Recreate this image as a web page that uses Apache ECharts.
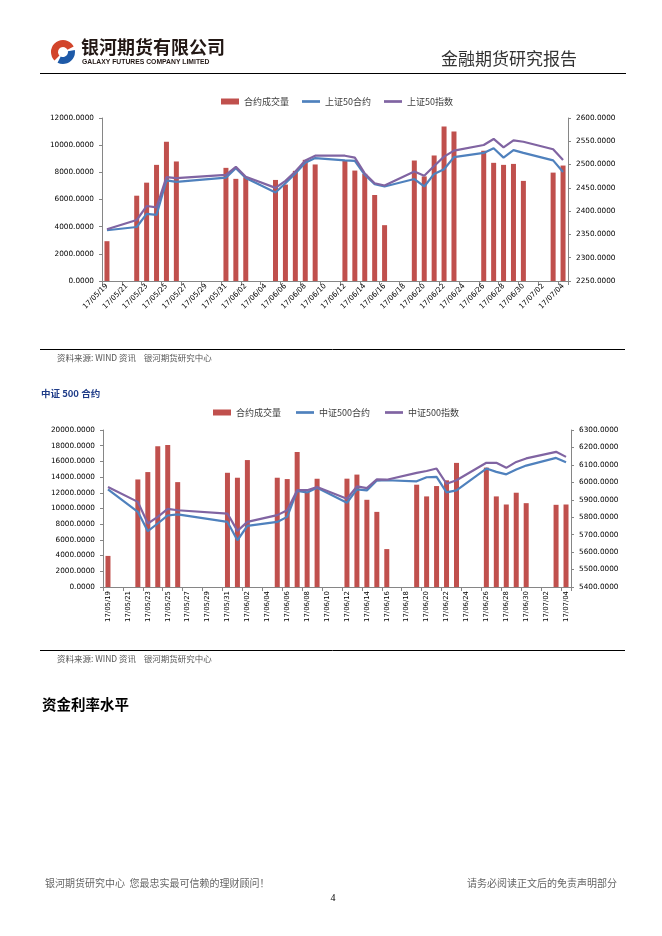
<!DOCTYPE html>
<html>
<head>
<meta charset="utf-8">
<script src="https://cdn.jsdelivr.net/npm/echarts@6/dist/echarts.min.js"></script>
<style>
html,body{margin:0;padding:0;background:#fff;}
#page{width:662px;height:936px;}
</style>
</head>
<body>
<div id="page"></div>
<script>
// ---------- data ----------
const calendarDays = [
 '17/05/19','17/05/20','17/05/21','17/05/22','17/05/23','17/05/24','17/05/25','17/05/26','17/05/27','17/05/28',
 '17/05/29','17/05/30','17/05/31','17/06/01','17/06/02','17/06/03','17/06/04','17/06/05','17/06/06','17/06/07',
 '17/06/08','17/06/09','17/06/10','17/06/11','17/06/12','17/06/13','17/06/14','17/06/15','17/06/16','17/06/17',
 '17/06/18','17/06/19','17/06/20','17/06/21','17/06/22','17/06/23','17/06/24','17/06/25','17/06/26','17/06/27',
 '17/06/28','17/06/29','17/06/30','17/07/01','17/07/02','17/07/03','17/07/04'
];
const tradeDays = [
 '17/05/19','17/05/22','17/05/23','17/05/24','17/05/25','17/05/26','17/05/31','17/06/01','17/06/02',
 '17/06/05','17/06/06','17/06/07','17/06/08','17/06/09','17/06/12','17/06/13','17/06/14','17/06/15','17/06/16',
 '17/06/19','17/06/20','17/06/21','17/06/22','17/06/23','17/06/26','17/06/27','17/06/28','17/06/29','17/06/30',
 '17/07/03','17/07/04'
];
// 上证50
const sz50Volume = [2930,6280,7240,8550,10250,8800,8330,7520,7640,7440,7100,8110,8920,8580,8890,8130,7890,6330,4110,8870,7700,9240,11380,11010,9590,8700,8550,8620,7370,7980,8500];
const sz50Future = [2359,2366,2394,2392,2466,2463,2472,2492,2471,2440,2460,2481,2504,2514,2509,2508,2478,2458,2453,2469,2453,2480,2490,2516,2525,2535,2515,2531,2525,2509,2484];
const sz50Index  = [2361,2381,2411,2408,2473,2471,2478,2495,2474,2450,2465,2485,2509,2519,2519,2515,2481,2460,2455,2485,2476,2497,2517,2530,2542,2555,2537,2552,2549,2533,2510];
// 中证500
const zz500Volume = [3960,13700,14640,17920,18090,13360,14550,13920,16170,13920,13750,17190,12100,13790,13800,14320,11110,9570,4830,13030,11540,12860,13590,15810,15210,11540,10510,12010,10680,10470,10510];
const zz500Future = [5959,5831,5720,5764,5810,5816,5773,5668,5750,5773,5802,5951,5942,5969,5883,5960,5954,6010,6012,6006,6029,6031,5942,5954,6079,6060,6046,6073,6096,6140,6115];
const zz500Index  = [5973,5888,5764,5802,5848,5840,5821,5722,5773,5812,5840,5955,5955,5973,5906,5977,5967,6017,6015,6054,6065,6079,5992,6012,6112,6112,6083,6117,6137,6175,6146];
// axis ranges
const sz50LeftAxis = [0, 12000, 2000];
const sz50RightAxis = [2250, 2600, 50];
const zz500LeftAxis = [0, 20000, 2000];
const zz500RightAxis = [5400, 6300, 100];

// ---------- build ----------
function toCalendar(values){
  const m = {};
  tradeDays.forEach((d,i)=>{ m[d] = values[i]; });
  return calendarDays.map(d => (d in m) ? m[d] : null);
}
const RED = '#C0504D', BLUE = '#4F81BD', PURPLE = '#8064A2', AX = '#868686';
const NUM_FONT = 'DejaVu Sans';
const CJK = '"Noto Sans CJK SC"';

function yAx(grid, pos, r){
  return {
    type:'value', gridIndex:grid, position:pos, min:r[0], max:r[1], interval:r[2],
    axisLine:{show:true, lineStyle:{color:AX, width:1}},
    axisTick:{show:true, length:3, lineStyle:{color:AX}},
    splitLine:{show:false},
    axisLabel:{formatter:v=>v.toFixed(4), fontSize:7.3, fontFamily:NUM_FONT, color:'#000', margin:8}
  };
}
function xAx(grid, rot, margin, fs){
  return {
    type:'category', gridIndex:grid, data:calendarDays, boundaryGap:true,
    axisLine:{show:true, lineStyle:{color:AX, width:1}},
    axisTick:{show:true, interval:1, length:4, alignWithLabel:false, lineStyle:{color:AX}},
    axisLabel:{interval:1, rotate:rot, fontSize:fs, fontFamily:NUM_FONT, color:'#000', margin:margin},
    splitLine:{show:false}
  };
}
const lineIcon = 'path://M0 0H20V3H0Z';
function lineSeries(name, data, color, xi, yi){
  return {type:'line', name:name, data:toCalendar(data), xAxisIndex:xi, yAxisIndex:yi,
    connectNulls:true, symbol:'none', showSymbol:false,
    lineStyle:{color:color, width:2.2}, itemStyle:{color:color}, z:3, animation:false};
}
function barSeries(data, xi, yi){
  return {type:'bar', name:'合约成交量', data:toCalendar(data), xAxisIndex:xi, yAxisIndex:yi,
    barWidth:5, itemStyle:{color:RED}, animation:false};
}
function txt(x, y, s, font, fill, align){
  return {type:'text', x:x, y:y, style:{text:s, font:font, fill:fill, align:align||'left', verticalAlign:'middle'}};
}
function hline(x1, x2, y, w){
  return {type:'line', shape:{x1:x1, y1:y, x2:x2, y2:y}, style:{stroke:'#000', lineWidth:w||1}};
}

const chart = echarts.init(document.getElementById('page'), null, {renderer:'canvas'});
chart.setOption({
  animation:false,
  backgroundColor:'#fff',
  grid:[
    {left:102, top:118, width:466, height:163},
    {left:103, top:430, width:468, height:157}
  ],
  legend:[
    {left:221, top:97, padding:0, itemWidth:18, itemHeight:6, itemGap:13,
     textStyle:{fontSize:9, color:'#404040', fontFamily:CJK},
     data:[{name:'合约成交量', icon:'rect'},{name:'上证50合约', icon:lineIcon},{name:'上证50指数', icon:lineIcon}]},
    {left:213, top:408, padding:0, itemWidth:18, itemHeight:6, itemGap:15,
     textStyle:{fontSize:9, color:'#404040', fontFamily:CJK},
     data:[{name:'合约成交量', icon:'rect'},{name:'中证500合约', icon:lineIcon},{name:'中证500指数', icon:lineIcon}]}
  ],
  xAxis:[ xAx(0, 45, 4, 7.2), xAx(1, 90, 4, 6.9) ],
  yAxis:[
    yAx(0,'left',sz50LeftAxis), yAx(0,'right',sz50RightAxis),
    yAx(1,'left',zz500LeftAxis), yAx(1,'right',zz500RightAxis)
  ],
  series:[
    barSeries(sz50Volume, 0, 0),
    lineSeries('上证50合约', sz50Future, BLUE, 0, 1),
    lineSeries('上证50指数', sz50Index, PURPLE, 0, 1),
    barSeries(zz500Volume, 1, 2),
    lineSeries('中证500合约', zz500Future, BLUE, 1, 3),
    lineSeries('中证500指数', zz500Index, PURPLE, 1, 3)
  ],
  graphic:[
    // logo
    {type:'sector', shape:{cx:63, cy:52, r0:5, r:12, startAngle:Math.PI*0.75, endAngle:Math.PI*1.85, clockwise:true}, style:{fill:'#D2452B'}},
    {type:'sector', shape:{cx:63, cy:52, r0:5, r:12, startAngle:-Math.PI*0.05, endAngle:Math.PI*0.65, clockwise:true}, style:{fill:'#1E5AA8'}},
    txt(81, 47, '银河期货有限公司', 'bold 18px '+CJK, '#231815'),
    txt(82, 62, 'GALAXY FUTURES COMPANY LIMITED', 'bold 6.8px "Liberation Sans"', '#231815'),
    txt(441, 59, '金融期货研究报告', '17px '+CJK, '#333'),
    hline(40, 626, 73.5, 1),
    // chart 1 footer
    hline(40, 625, 349.5, 1),
    txt(57, 358, '资料来源: WIND 资讯    银河期货研究中心', '8.5px '+CJK, '#555'),
    txt(41, 393, '中证 500 合约', 'bold 9.5px '+CJK, '#1F3C88'),
    // chart 2 footer
    hline(40, 625, 650.5, 1),
    txt(57, 659, '资料来源: WIND 资讯    银河期货研究中心', '8.5px '+CJK, '#555'),
    txt(42, 704, '资金利率水平', 'bold 14.5px '+CJK, '#000'),
    // page footer
    txt(45, 883, '银河期货研究中心  您最忠实最可信赖的理财顾问！', '10px '+CJK, '#666'),
    txt(617, 883, '请务必阅读正文后的免责声明部分', '10px '+CJK, '#666', 'right'),
    txt(333, 898, '4', '10px "Liberation Serif"', '#000', 'center')
  ]
});
</script>
</body>
</html>
